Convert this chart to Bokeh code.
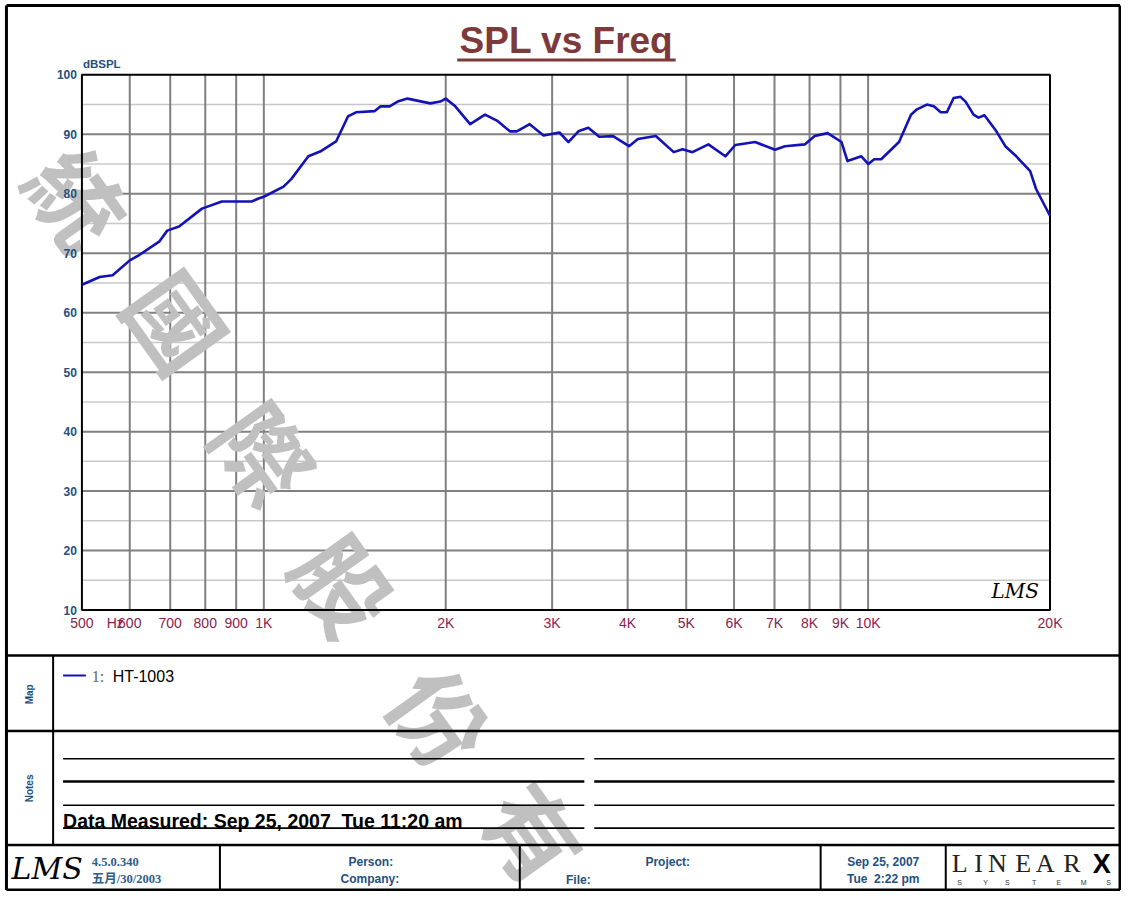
import math
from bokeh.plotting import figure
from bokeh.models import Range1d, LogScale
from bokeh.core.properties import value
from bokeh.embed import file_html
from bokeh.resources import INLINE

# ---------------- data ----------------
freq_hz = [500, 535, 562, 600, 622, 672, 692, 724, 790, 852, 955, 980, 1000,
           1078, 1111, 1185, 1245, 1317, 1378, 1421, 1526, 1561, 1615, 1665,
           1729, 1886, 1959, 2000, 2074, 2195, 2323, 2431, 2554, 2622, 2754,
           2904, 3085, 3192, 3316, 3443, 3590, 3784, 4021, 4160, 4453, 4768,
           4932, 5121, 5441, 5805, 6029, 6501, 7013, 7284, 7855, 8159, 8570,
           9036, 9245, 9745, 10010, 10235, 10510, 11250, 11776, 12046, 12510,
           12843, 13188, 13498, 13853, 14223, 14498, 14944, 15228, 15579,
           16303, 16868, 17588, 18545, 18965, 20000]
spl_db = [64.7, 66.0, 66.3, 68.8, 69.7, 72.0, 73.8, 74.5, 77.5, 78.7, 78.7, 79.2, 79.5,
          81.2, 82.5, 86.3, 87.2, 88.8, 93.0, 93.7, 93.9, 94.7, 94.7, 95.5,
          96.0, 95.2, 95.5, 96.0, 94.7, 91.7, 93.3, 92.3, 90.5, 90.5, 91.7,
          89.8, 90.3, 88.7, 90.5, 91.1, 89.6, 89.7, 88.0, 89.2, 89.7, 87.0,
          87.5, 87.0, 88.3, 86.3, 88.2, 88.7, 87.4, 88.0, 88.3, 89.7, 90.2,
          88.7, 85.5, 86.3, 85.0, 85.8, 85.8, 88.7, 93.3, 94.2, 95.0,
          94.7, 93.7, 93.7, 96.1, 96.3, 95.5, 93.3, 92.8, 93.2,
          90.5, 88.0, 86.3, 83.8, 80.8, 76.3]

x_tick_freqs = [500, 600, 700, 800, 900, 1000, 2000, 3000, 4000, 5000, 6000,
                7000, 8000, 9000, 10000, 20000]
x_tick_labels = ["500", "600", "700", "800", "900", "1K", "2K", "3K", "4K", "5K",
                 "6K", "7K", "8K", "9K", "10K", "20K"]
x_grid_freqs = [600, 700, 800, 900, 1000, 2000, 3000, 4000, 5000, 6000, 7000,
                8000, 9000, 10000]
y_ticks = [10, 20, 30, 40, 50, 60, 70, 80, 90, 100]
y_tick_labels = ["10", "20", "30", "40", "50", "60", "70", "80", "90", "100"]
y_major_grid = [20, 30, 40, 50, 60, 70, 80, 90]
y_minor_grid = [15, 25, 35, 45, 55, 65, 75, 85, 95]

series_name = "HT-1003"
title_text = "SPL vs Freq"
y_unit = "dBSPL"
measured_text = "Data Measured: Sep 25, 2007\u00a0 Tue 11:20 am"
watermark_chars = ["統", "國", "際", "股", "份", "有"]

# ---------------- layout (reference pixels) ----------------
PX_L, PX_R = 82, 1057      # 500 Hz .. 20 kHz
PY_T, PY_B = 75, 615       # 100 dB .. 10 dB
RW, RH = 1129, 899         # reference picture size
W, H = 1121, 891           # canvas size

p = figure(width=W, height=H, x_range=Range1d(0, RW), y_range=Range1d(RH, 0),
           output_backend="svg", toolbar_location=None,
           x_axis_type=None, y_axis_type=None, min_border=0, title=None)
p.outline_line_color = None
p.background_fill_color = "white"
p.border_fill_color = "white"

lx0, lx1 = math.log10(500), math.log10(20000)
k = (lx1 - lx0) / (PX_R - PX_L)
p.extra_x_ranges = {"freq": Range1d(10 ** (lx0 - PX_L * k), 10 ** (lx1 + (RW - PX_R) * k))}
p.extra_x_scales = {"freq": LogScale()}
m = 90.0 / (PY_B - PY_T)
p.extra_y_ranges = {"db": Range1d(10 - (RH - PY_B) * m, 100 + PY_T * m)}

SANS = "Liberation Sans"
SERIF = "Liberation Serif"
BLUE_TXT = "#24507e"
MAROON = "#8c1c4e"


def txt(x, y, s, size, color="black", bold=False, font=SANS, align="left",
        baseline="middle", angle=0.0, style=None, alpha=1.0, **kw):
    p.text(x=[x], y=[y], text=[s], text_font=value(font), text_font_size=f"{size}px",
           text_font_style=style or ("bold" if bold else "normal"), text_color=color,
           text_align=align, text_baseline=baseline, angle=angle, text_alpha=alpha, **kw)


def seg(x0, y0, x1, y1, w=2.0, color="black"):
    p.segment(x0=[x0], y0=[y0], x1=[x1], y1=[y1], line_color=color, line_width=w)


# ---------------- chart ----------------
n_min = len(y_minor_grid)
p.segment(x0=[500] * n_min, x1=[20000] * n_min, y0=y_minor_grid, y1=y_minor_grid,
          line_color="#c8c8c8", line_width=1.5, x_range_name="freq", y_range_name="db")
n_maj = len(y_major_grid)
p.segment(x0=[500] * n_maj, x1=[20000] * n_maj, y0=y_major_grid, y1=y_major_grid,
          line_color="#808080", line_width=2, x_range_name="freq", y_range_name="db")
n_vx = len(x_grid_freqs)
p.segment(x0=x_grid_freqs, x1=x_grid_freqs, y0=[10] * n_vx, y1=[100] * n_vx,
          line_color="#808080", line_width=2, x_range_name="freq", y_range_name="db")

# watermark
wm_pos = [(80, 198), (180, 322), (268, 455), (348, 588), (445, 722), (540, 838)]
for ch, (wx, wy) in zip(watermark_chars, wm_pos):
    txt(wx, wy, ch, 94, color="#c0c0c0", bold=True, font="Noto Sans CJK TC",
        align="center", angle=-0.95)

p.quad(left=[500], right=[20000], bottom=[10], top=[100], fill_color=None,
       line_color="black", line_width=2, x_range_name="freq", y_range_name="db")

p.line(freq_hz, spl_db, line_color="#1212b8", line_width=2.6, line_join="round",
       x_range_name="freq", y_range_name="db")

# tick labels
p.text(x=x_tick_freqs, y=[628] * len(x_tick_freqs), text=x_tick_labels,
       text_font=value(SANS), text_font_size="14px", text_color=MAROON,
       text_align="center", text_baseline="middle", x_range_name="freq")
txt(107, 628, "Hz", 14, color=MAROON)
p.text(x=[77] * len(y_ticks), y=y_ticks, text=y_tick_labels, text_font=value(SANS),
       text_font_size="12px", text_font_style="bold", text_color=BLUE_TXT,
       text_align="right", text_baseline="middle", y_range_name="db")
txt(83, 64, y_unit, 11.5, color=BLUE_TXT, bold=True)

# small LMS logo in plot
txt(1022, 596, "LMS", 20, font="DejaVu Serif", style="italic", align="center")

# title
txt(570, 40, title_text, 37, color="#7e3a3a", bold=True, align="center")
seg(460, 60, 680, 60, w=3, color="#7e3a3a")

# ---------------- frame & panels ----------------
seg(6, 5, 1127.5, 5, w=3)
seg(6, 897.5, 1127.5, 897.5, w=3)
seg(6, 5, 6, 897.5, w=3)
seg(1127.5, 5, 1127.5, 897.5, w=3)
seg(6, 661, 1127.5, 661, w=2.5)
seg(6, 737, 1127.5, 737, w=2.5)
seg(6, 852, 1127.5, 852, w=2.5)
seg(53, 661, 53, 852, w=2)
for fx in (221, 523, 826, 952):
    seg(fx, 852, fx, 897.5, w=2)

# map panel
txt(29, 700, "Map", 10, color=BLUE_TXT, bold=True, align="center", angle=math.pi / 2)
seg(63, 681, 86, 681, w=2, color="#1212b8")
txt(92, 682, "1:", 16, color="#666666", font=SERIF)
txt(113, 682, series_name, 16)

# notes panel
txt(29, 795, "Notes", 10, color=BLUE_TXT, bold=True, align="center", angle=math.pi / 2)
for ly, lw in ((765, 1.5), (788, 2.6), (812, 1.5), (835, 1.8)):
    seg(63, ly, 588, ly, w=lw)
    seg(598, ly, 1122, ly, w=lw)
txt(63, 828, measured_text, 19.5, bold=True)

# footer
txt(47, 876, "LMS", 30, font="DejaVu Serif", style="italic", align="center")
txt(92, 869, "4.5.0.340", 12.5, color="#2e5c8a", bold=True, font=SERIF)
txt(92, 886, "五月/30/2003", 12.5, color="#2e5c8a", bold=True,
    font="Liberation Serif, Noto Sans CJK SC")
txt(373, 869, "Person:", 12, color=BLUE_TXT, bold=True, align="center")
txt(372, 886, "Company:", 12, color=BLUE_TXT, bold=True, align="center")
txt(672, 869, "Project:", 12, color=BLUE_TXT, bold=True, align="center")
txt(582, 887, "File:", 12, color=BLUE_TXT, bold=True, align="center")
txt(889, 869, "Sep 25, 2007", 12, color=BLUE_TXT, bold=True, align="center")
txt(889, 886, "Tue\u00a0 2:22 pm", 12, color=BLUE_TXT, bold=True, align="center")

for ch, cx in zip("LINEAR", (966, 985, 1004, 1030, 1052, 1079)):
    txt(cx, 871, ch, 26, font=SERIF, align="center", color="#222222")
txt(1109, 871, "X", 27, bold=True, font=SANS, align="center")
for ch, cx in zip("SYSTEMS", (966, 992, 1014, 1041, 1066, 1091, 1116)):
    txt(cx, 890, ch, 7, font=SANS, align="center", color="#333333")

open("out.html", "w").write(file_html(p, INLINE))
